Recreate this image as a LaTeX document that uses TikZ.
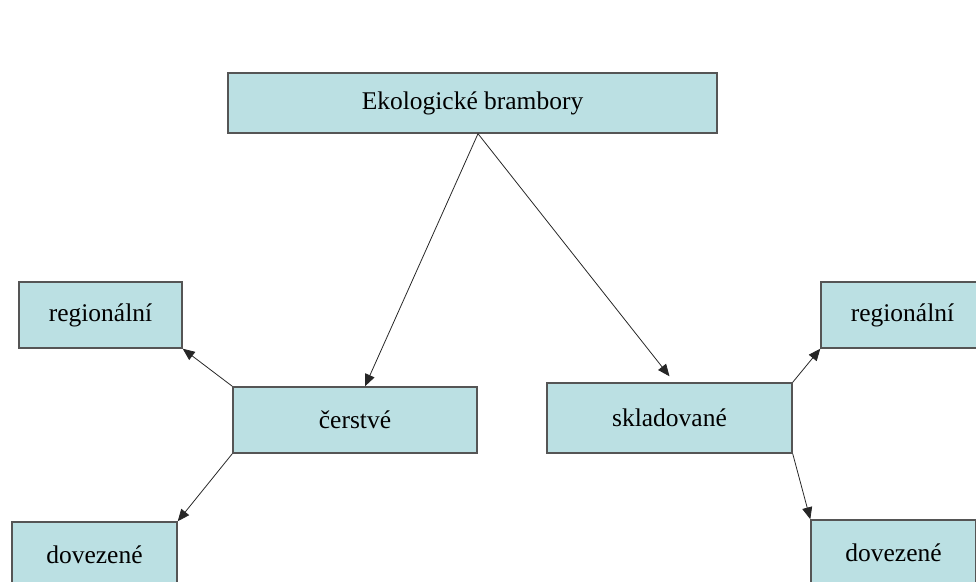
\documentclass[tikz,border=0pt]{standalone}
\usepackage{fontspec}
\setmainfont{Liberation Serif}
\usepackage{xcolor}
\usetikzlibrary{arrows.meta, positioning}
\definecolor{boxfill}{HTML}{BBE0E3}
\definecolor{boxline}{HTML}{555555}

\begin{document}
\begin{tikzpicture}[
  block/.style={draw=boxline, line width=0.8pt, fill=boxfill, align=center, minimum height=1.32cm, font=\fontsize{14.5}{17}\selectfont},
  arrow/.style={-{Triangle[length=0.24cm, width=0.2cm]}, line width=0.45pt, draw=black!85}
]
\useasboundingbox (0,0) rectangle (19.52,11.64);
\clip (0,0) rectangle (19.52,11.64);

\node[block, minimum width=9.78cm, minimum height=1.2cm] (brambory) at (9.45,9.58) {Ekologické brambory};
\node[block, minimum width=4.88cm] (cerstve) at (7.10,3.24) {čerstvé};
\node[block, minimum width=4.90cm, minimum height=1.40cm] (skladovane) at (13.39,3.28) {skladované};
\node[block, minimum width=3.26cm] (regL) at (2.01,5.34) {regionální};
\node[block, minimum width=3.30cm] (dovL) at (1.89,0.54) {dovezené};
\node[block, minimum width=3.26cm] (regR) at (18.05,5.34) {regionální};
\node[block, minimum width=3.30cm] (dovR) at (17.87,0.58) {dovezené};

\draw[arrow] ([xshift=0.11cm]brambory.south) -- ([xshift=0.2cm]cerstve.north);
\draw[arrow] ([xshift=0.11cm]brambory.south) -- ([yshift=0.12cm]skladovane.north);
\draw[arrow] (cerstve.north west) -- (regL.south east);
\draw[arrow] (cerstve.south west) -- (dovL.north east);
\draw[arrow] (skladovane.north east) -- (regR.south west);
\draw[arrow] (skladovane.south east) -- (dovR.north west);
\end{tikzpicture}
\end{document}
